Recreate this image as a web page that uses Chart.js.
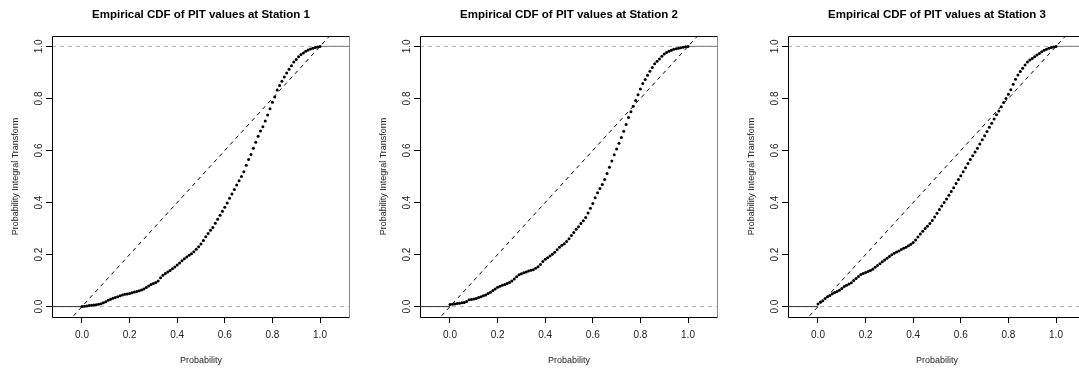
<!DOCTYPE html>
<html>
<head>
<meta charset="utf-8">
<script src="https://cdn.jsdelivr.net/npm/chart.js@4"></script>
<style>
  html, body { margin: 0; padding: 0; background: #fff; overflow: hidden; }
  body { width: 1079px; height: 369px; position: relative; }
  .panel { position: absolute; top: 0; width: 368px; height: 369px; }
</style>
</head>
<body>
<div class="panel" style="left:0px"><canvas id="st1"></canvas></div>
<div class="panel" style="left:368px"><canvas id="st2"></canvas></div>
<div class="panel" style="left:736px"><canvas id="st3"></canvas></div>
<script>
// probability grid (x) shared by the three stations
const probs = [0.00,0.01,0.02,0.03,0.04,0.05,0.06,0.07,0.08,0.09,
  0.10,0.11,0.12,0.13,0.14,0.15,0.16,0.17,0.18,0.19,
  0.20,0.21,0.22,0.23,0.24,0.25,0.26,0.27,0.28,0.29,
  0.30,0.31,0.32,0.33,0.34,0.35,0.36,0.37,0.38,0.39,
  0.40,0.41,0.42,0.43,0.44,0.45,0.46,0.47,0.48,0.49,
  0.50,0.51,0.52,0.53,0.54,0.55,0.56,0.57,0.58,0.59,
  0.60,0.61,0.62,0.63,0.64,0.65,0.66,0.67,0.68,0.69,
  0.70,0.71,0.72,0.73,0.74,0.75,0.76,0.77,0.78,0.79,
  0.80,0.81,0.82,0.83,0.84,0.85,0.86,0.87,0.88,0.89,
  0.90,0.91,0.92,0.93,0.94,0.95,0.96,0.97,0.98,0.99,1.00]

// empirical CDF of PIT values
const pitStation1 = [0.000,0.001,0.002,0.004,0.005,0.006,0.007,0.009,0.011,0.015,
  0.019,0.024,0.028,0.032,0.035,0.038,0.042,0.045,0.047,0.048,
  0.050,0.053,0.056,0.058,0.061,0.064,0.068,0.073,0.079,0.085,
  0.089,0.093,0.098,0.111,0.120,0.127,0.133,0.139,0.145,0.152,
  0.160,0.168,0.176,0.184,0.191,0.197,0.203,0.211,0.220,0.230,
  0.241,0.254,0.268,0.281,0.293,0.304,0.320,0.336,0.351,0.366,
  0.382,0.398,0.416,0.433,0.450,0.467,0.484,0.500,0.518,0.543,
  0.565,0.585,0.609,0.632,0.655,0.675,0.691,0.713,0.736,0.760,
  0.785,0.806,0.832,0.850,0.866,0.882,0.898,0.912,0.926,0.940,
  0.950,0.960,0.969,0.975,0.981,0.986,0.990,0.993,0.996,0.998,1.000]

const pitStation2 = [0.008,0.009,0.010,0.012,0.013,0.015,0.016,0.020,0.026,0.027,
  0.029,0.031,0.035,0.038,0.042,0.045,0.050,0.055,0.062,0.068,
  0.074,0.078,0.082,0.085,0.089,0.093,0.098,0.106,0.115,0.122,
  0.126,0.130,0.133,0.137,0.140,0.142,0.147,0.153,0.162,0.173,
  0.182,0.188,0.194,0.201,0.209,0.218,0.228,0.236,0.242,0.250,
  0.261,0.273,0.285,0.297,0.307,0.319,0.330,0.342,0.360,0.378,
  0.396,0.418,0.438,0.454,0.469,0.488,0.512,0.536,0.560,0.584,
  0.606,0.628,0.650,0.674,0.700,0.727,0.749,0.770,0.792,0.814,
  0.836,0.857,0.873,0.889,0.905,0.919,0.933,0.943,0.952,0.962,
  0.971,0.977,0.981,0.985,0.989,0.991,0.993,0.995,0.997,0.999,1.000]

const pitStation3 = [0.010,0.018,0.022,0.031,0.038,0.043,0.049,0.054,0.058,0.063,
  0.070,0.077,0.082,0.087,0.092,0.100,0.108,0.116,0.123,0.127,
  0.131,0.135,0.139,0.144,0.151,0.158,0.165,0.172,0.179,0.186,
  0.193,0.199,0.205,0.210,0.214,0.219,0.224,0.228,0.234,0.240,
  0.246,0.256,0.267,0.279,0.290,0.300,0.309,0.319,0.331,0.344,
  0.359,0.373,0.387,0.400,0.414,0.428,0.442,0.457,0.473,0.488,
  0.503,0.518,0.534,0.550,0.565,0.580,0.594,0.609,0.625,0.641,
  0.657,0.673,0.689,0.705,0.721,0.737,0.752,0.768,0.784,0.800,
  0.816,0.833,0.855,0.874,0.890,0.904,0.916,0.929,0.940,0.948,
  0.954,0.960,0.967,0.973,0.979,0.985,0.989,0.993,0.996,0.998,1.000]

const tickValues = [0, 0.2, 0.4, 0.6, 0.8, 1.0]
const xLimits = [-0.126, 1.126]
const yLimits = [-0.04, 1.04]

const FONT = '"Liberation Sans", Arial, Helvetica, sans-serif'

// title above the plot box, centred on the plotting region
const panelTitle = {
    id: 'panelTitle',
    afterDraw(chart, args, opts) {
        const {ctx, chartArea} = chart
        ctx.save()
        ctx.font = 'bold 11.5px ' + FONT
        ctx.fillStyle = '#000'
        ctx.textAlign = 'center'
        ctx.textBaseline = 'middle'
        ctx.fillText(opts.text, (chartArea.left + chartArea.right) / 2, 15)
        ctx.restore()
    }
}

// R style box round the plot
const plotBox = {
    id: 'plotBox',
    afterDatasetsDraw(chart) {
        const {ctx, chartArea: a} = chart
        ctx.save()
        ctx.lineWidth = 1
        ctx.strokeStyle = '#000'
        ctx.beginPath()
        ctx.moveTo(a.right, a.top + 0.5)
        ctx.lineTo(a.left + 0.5, a.top + 0.5)
        ctx.lineTo(a.left + 0.5, a.bottom + 0.5)
        ctx.lineTo(a.right, a.bottom + 0.5)
        ctx.stroke()
        ctx.strokeStyle = '#8a8a8a'
        ctx.beginPath()
        ctx.moveTo(a.right - 0.5, a.top)
        ctx.lineTo(a.right - 0.5, a.bottom + 1)
        ctx.stroke()
        ctx.restore()
    }
}

function makeChart(id, title, values) {
    const points = probs.map((p, i) => ({x: p, y: values[i]}))
    new Chart(document.getElementById(id), {
        type: 'scatter',
        data: {
            datasets: [
                {
                    // ECDF points
                    data: points,
                    backgroundColor: '#000',
                    borderColor: '#000',
                    pointRadius: 1.5,
                    pointBorderWidth: 0,
                    showLine: false
                },
                {
                    // ecdf below the smallest value
                    data: [{x: xLimits[0], y: 0}, {x: 0, y: 0}],
                    showLine: true,
                    borderColor: '#333',
                    borderWidth: 1,
                    pointRadius: 0
                },
                {
                    // ecdf above the largest value
                    data: [{x: 1, y: 1}, {x: xLimits[1], y: 1}],
                    showLine: true,
                    borderColor: '#8a8a8a',
                    borderWidth: 1.2,
                    pointRadius: 0
                },
                {
                    data: [{x: xLimits[0], y: 0}, {x: xLimits[1], y: 0}],
                    showLine: true,
                    borderColor: '#b3b3b3',
                    borderWidth: 1,
                    borderDash: [4, 4],
                    pointRadius: 0
                },
                {
                    data: [{x: xLimits[0], y: 1}, {x: xLimits[1], y: 1}],
                    showLine: true,
                    borderColor: '#b3b3b3',
                    borderWidth: 1,
                    borderDash: [4, 4],
                    pointRadius: 0
                },
                {
                    // 1:1 reference line
                    data: [{x: xLimits[0], y: xLimits[0]}, {x: xLimits[1], y: xLimits[1]}],
                    showLine: true,
                    borderColor: '#000',
                    borderWidth: 1,
                    borderDash: [4, 4],
                    pointRadius: 0
                }
            ]
        },
        options: {
            responsive: true,
            maintainAspectRatio: false,
            animation: false,
            events: [],
            layout: {padding: {top: 36, right: 18, left: 0, bottom: 0}},
            plugins: {
                legend: {display: false},
                tooltip: {enabled: false},
                panelTitle: {text: title}
            },
            scales: {
                x: {
                    type: 'linear',
                    min: xLimits[0],
                    max: xLimits[1],
                    afterBuildTicks: s => { s.ticks = tickValues.map(v => ({value: v})) },
                    afterFit: s => { s.height = 52 },
                    border: {display: false},
                    grid: {drawOnChartArea: false, drawTicks: true, tickLength: 6, color: '#000'},
                    ticks: {
                        autoSkip: false, maxRotation: 0, minRotation: 0, padding: 6,
                        color: '#222', font: {family: FONT, size: 10},
                        callback: v => v.toFixed(1)
                    },
                    title: {
                        display: true, text: 'Probability', color: '#222',
                        font: {family: FONT, size: 9}, padding: {top: 0, bottom: 3}
                    }
                },
                y: {
                    type: 'linear',
                    min: yLimits[0],
                    max: yLimits[1],
                    afterBuildTicks: s => { s.ticks = tickValues.map(v => ({value: v})) },
                    afterFit: s => { s.width = 52 },
                    border: {display: false},
                    grid: {drawOnChartArea: false, drawTicks: true, tickLength: 6, color: '#000'},
                    ticks: {
                        autoSkip: false, minRotation: 90, maxRotation: 90, padding: 0,
                        crossAlign: 'center',
                        color: '#222', font: {family: FONT, size: 10},
                        callback: v => v.toFixed(1)
                    },
                    title: {
                        display: true, text: 'Probability Integral Transform', color: '#222',
                        font: {family: FONT, size: 9}, padding: {top: 10, bottom: 0}
                    }
                }
            }
        },
        plugins: [panelTitle, plotBox]
    })
}

makeChart('st1', 'Empirical CDF of PIT values at Station 1', pitStation1)
makeChart('st2', 'Empirical CDF of PIT values at Station 2', pitStation2)
makeChart('st3', 'Empirical CDF of PIT values at Station 3', pitStation3)
</script>
</body>
</html>
